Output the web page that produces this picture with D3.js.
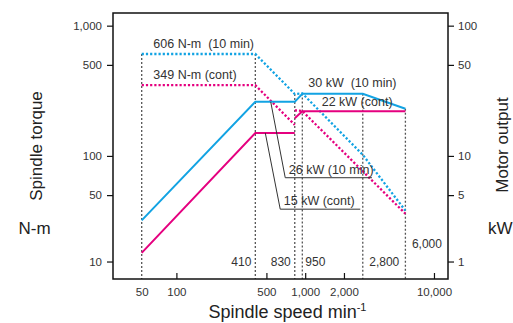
<!DOCTYPE html>
<html>
<head>
<meta charset="utf-8">
<script src="https://cdn.jsdelivr.net/npm/d3@7"></script>
<style>
  body { margin: 0; background: #fff; }
  svg { display: block; font-family: 'Liberation Sans', Arial, Helvetica, sans-serif; }
</style>
</head>
<body>
<figure id="chart" style="margin:0"></figure>
<script>
// spindle speed breakpoints (min-1)
const speeds = [50, 410, 830, 950, 2800, 6000];
const torque10min = [606, 606, 299, 302, 102, 38];   // N-m
const power10min = [3.2, 26, 26, 30, 30, 23];       // kW

// continuous rating has a step at 830 min-1
const contSpeedsLow = [50, 410, 830];
const torqueContLow = [349, 349, 173];
const powerContLow = [1.8, 15, 15];
const contSpeedsHigh = [830, 950, 6000];
const torqueContHigh = [224, 221, 36];
const powerContHigh = [19.5, 22, 22];

const speedMarks = [50, 410, 830, 950, 2800, 6000];
const speedMarkLabels = ["", "410", "830", "950", "2,800", "6,000"];

const xTicks = [50, 100, 500, 1000, 2000, 10000];
const torqueTicks = [10, 50, 100, 500, 1000];
const powerTicks = [1, 5, 10, 50, 100];

const cyan = "#12a3e3";
const magenta = "#e5007f";

const size = { left: 113, top: 13, width: 335, height: 266 };

const svg = d3.select("#chart").append("svg")
  .attr("width", 513)
  .attr("height", 323);

const g = svg.append("g")
  .attr("transform", "translate(" + size.left + "," + size.top + ")");

// speed axis: log, the 50 start is drawn a bit wider than true log
const x = d3.scaleLog()
  .domain([31.9, 50, 100, 12850])
  .range([0, 28.7, 63.4, size.width]);

const yT = d3.scaleLog().domain([11.35, 1251]).range([size.height, 0]);
const yP = d3.scaleLog().domain([1.135, 125.1]).range([size.height, 0]);

// the lowest tick label sits higher than true log position in the original
const yTAxis = d3.scaleLog().domain([10, 50, 1251]).range([yT(50) + 66.4, yT(50), 0]);
const yPAxis = d3.scaleLog().domain([1, 5, 125.1]).range([yP(5) + 66.4, yP(5), 0]);

const fmt = d3.format(",");

// vertical reference lines
const topAt = s => {
  const i = speeds.indexOf(s);
  return Math.min(yT(torque10min[i]), yP(power10min[i]));
};

g.selectAll(".ref")
  .data(speedMarks)
  .join("line")
  .attr("class", "ref")
  .attr("x1", d => x(d)).attr("x2", d => x(d))
  .attr("y1", d => topAt(d))
  .attr("y2", size.height)
  .attr("stroke", "#555")
  .attr("stroke-width", 1.3)
  .attr("stroke-dasharray", "2,2");

g.selectAll(".refLabel")
  .data(speedMarks.map((d, i) => ({ v: d, t: speedMarkLabels[i] })))
  .join("text")
  .attr("class", "refLabel")
  .attr("x", d => d.v === 410 || d.v === 830 ? x(d.v) - 4 : d.v === 950 ? x(d.v) + 3 : x(d.v) + 6.5)
  .attr("y", d => d.v === 6000 ? size.height - 31.5 : size.height - 13)
  .attr("text-anchor", d => d.v === 410 || d.v === 830 ? "end" : "start")
  .attr("font-size", 12)
  .attr("fill", "#333")
  .text(d => d.t);

// curves
const torqueLine = d3.line().x(d => x(d[0])).y(d => yT(d[1]));
const powerLine = d3.line().x(d => x(d[0])).y(d => yP(d[1]));

const curves = [
  { pts: d3.zip(speeds, torque10min), line: torqueLine, color: cyan, dotted: true },
  { pts: d3.zip(contSpeedsLow, torqueContLow), line: torqueLine, color: magenta, dotted: true },
  { pts: d3.zip(contSpeedsHigh, torqueContHigh), line: torqueLine, color: magenta, dotted: true },
  { pts: d3.zip(speeds, power10min), line: powerLine, color: cyan, dotted: false },
  { pts: d3.zip(contSpeedsLow, powerContLow), line: powerLine, color: magenta, dotted: false },
  { pts: d3.zip(contSpeedsHigh, powerContHigh), line: powerLine, color: magenta, dotted: false }
];

g.selectAll(".curve")
  .data(curves)
  .join("path")
  .attr("class", "curve")
  .attr("d", d => d.line(d.pts))
  .attr("fill", "none")
  .attr("stroke", d => d.color)
  .attr("stroke-width", d => d.dotted ? 2.3 : 2)
  .attr("stroke-dasharray", d => d.dotted ? "2.2,2" : null);

// frame
g.append("rect")
  .attr("width", size.width).attr("height", size.height)
  .attr("fill", "none").attr("stroke", "#111").attr("stroke-width", 1.5);

// axes
const xAxis = d3.axisBottom(x).tickValues(xTicks).tickFormat(fmt).tickSize(-6).tickPadding(9);
const gx = g.append("g").attr("transform", "translate(0," + size.height + ")").call(xAxis);
gx.selectAll(".tick").filter(d => d === 50).select("line").remove();

const gyl = g.append("g").call(d3.axisLeft(yTAxis).tickValues(torqueTicks).tickFormat(fmt).tickSize(6).tickPadding(5));
const gyr = g.append("g").attr("transform", "translate(" + size.width + ",0)")
  .call(d3.axisRight(yPAxis).tickValues(powerTicks).tickFormat(fmt).tickSize(6).tickPadding(4));

[gx, gyl, gyr].forEach(a => {
  a.select(".domain").remove();
  a.selectAll(".tick line").attr("stroke", "#111").attr("stroke-width", 1.2);
  a.selectAll(".tick text").attr("font-size", 11.5).attr("fill", "#333")
    .attr("font-family", "'Liberation Sans', Arial, sans-serif");
});

// curve annotations
const note = (tx, ty, text) => g.append("text")
  .attr("x", tx).attr("y", ty)
  .attr("font-size", 12.5).attr("fill", "#333")
  .attr("xml:space", "preserve")
  .text(text);

note(x(50) + 11.6, yT(606) - 6, "606 N-m  (10 min)");
note(x(50) + 11.6, yT(349) - 6, "349 N-m (cont)");
note(x(950) + 6, yP(30) - 6.4, "30 kW  (10 min)");
note(x(950) + 19.4, yP(22) - 5, "22 kW (cont)");

const leaders = [
  { from: [540, 26], elbow: [700, 6.8], len: 86.7, text: "26 kW (10 min)" },
  { from: [490, 15], elbow: [640, 3.9], len: 80, text: "15 kW (cont)" }
];

leaders.forEach(d => {
  const ex = x(d.elbow[0]), ey = yP(d.elbow[1]);
  g.append("path")
    .attr("d", "M" + x(d.from[0]) + "," + yP(d.from[1]) + "L" + ex + "," + ey + "H" + (ex + d.len))
    .attr("fill", "none").attr("stroke", "#333").attr("stroke-width", 1);
  note(ex + 3.6, ey - 4, d.text);
});

// axis titles
svg.append("text")
  .attr("transform", "translate(36.5,146) rotate(-90)")
  .attr("text-anchor", "middle").attr("dominant-baseline", "central")
  .attr("font-size", 17).attr("fill", "#222")
  .text("Spindle torque");

svg.append("text")
  .attr("x", 34.5).attr("y", 228)
  .attr("text-anchor", "middle").attr("dominant-baseline", "central")
  .attr("font-size", 17).attr("fill", "#222")
  .text("N-m");

svg.append("text")
  .attr("transform", "translate(502,145) rotate(-90)")
  .attr("text-anchor", "middle").attr("dominant-baseline", "central")
  .attr("font-size", 17).attr("fill", "#222")
  .text("Motor output");

svg.append("text")
  .attr("x", 488).attr("y", 228)
  .attr("dominant-baseline", "central")
  .attr("font-size", 17).attr("fill", "#222")
  .text("kW");

const xt = svg.append("text")
  .attr("x", 287.5).attr("y", 318)
  .attr("text-anchor", "middle")
  .attr("font-size", 18).attr("fill", "#222");
xt.append("tspan").text("Spindle speed min");
xt.append("tspan").attr("dy", -7).attr("font-size", 11).text("-1");
</script>
</body>
</html>
